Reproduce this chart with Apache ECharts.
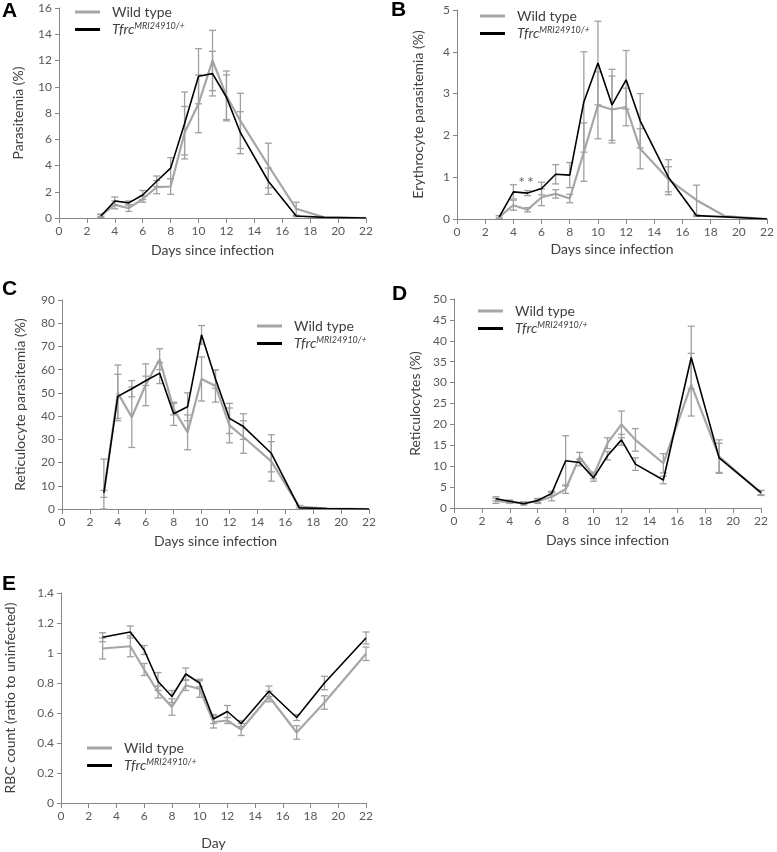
<!DOCTYPE html>
<html>
<head>
<meta charset="utf-8">
<script src="https://cdn.jsdelivr.net/npm/echarts@6/dist/echarts.min.js"></script>
<style>
html,body{margin:0;padding:0;background:#fff;}
#chart{width:777px;height:852px;}
</style>
</head>
<body>
<div id="chart"></div>
<script>
// ---------- DATA ----------
const days = [3,4,5,6,7,8,9,10,11,12,13,15,17,19,22];
const daysE = [3,5,6,7,8,9,10,11,12,13,15,17,19,22];
const xTicks = [0,2,4,6,8,10,12,14,16,18,20,22];

// A: Parasitemia (%)
const paraWT     = [0.2,1.0,0.75,1.45,2.35,2.4,6.5,8.7,12.0,9.3,7.4,4.0,0.7,0.05,0];
const paraWTerr  = [0.1,0.3,0.25,0.25,0.5,0.6,2.0,2.2,2.3,1.9,2.1,1.7,0.5,0,0];
const paraMut    = [0.15,1.3,1.15,1.75,2.8,3.8,7.2,10.8,11.0,9.2,6.5,2.8,0.15,0.05,0];
const paraMuterr = [0.1,0.3,0.15,0.35,0.4,0.8,2.4,2.1,1.7,1.7,1.6,1.0,0.05,0,0];

// B: Erythrocyte parasitemia (%)
const eryWT     = [0.05,0.33,0.22,0.52,0.6,0.49,1.6,2.72,2.62,2.68,1.68,0.95,0.45,0.07,0];
const eryWTerr  = [0.03,0.12,0.05,0.2,0.1,0.1,0.7,0.8,0.8,0.45,0.48,0.3,0.36,0,0];
const eryMut    = [0.05,0.65,0.62,0.73,1.07,1.05,2.8,3.73,2.73,3.33,2.35,1.0,0.08,0.05,0];
const eryMuterr = [0.03,0.17,0.06,0.15,0.23,0.3,1.2,1.0,0.85,0.7,0.65,0.42,0.02,0,0];
const eryStars  = [[4.9, 0.86]];

// C: Reticulocyte parasitemia (%)
const retWT     = [6.5,50,39.5,53.5,64.5,43,33,56,53,36,31,20.5,1,0.2,0];
const retWTerr  = [1.5,12,13,9,4.5,2.5,7.5,9.5,7,7.5,7,8.5,0.5,0,0];
const retMut    = [7,48.5,51.8,55.2,58.5,41,44,75,56,39,35.5,24,0.5,0.2,0];
const retMuterr = [14.5,9.5,3.5,2,4.5,5,6,4,4,6.5,5.5,8,0,0,0];

// D: Reticulocytes (%)
const recWT     = [1.7,1.4,1.2,1.6,2.7,4.5,12.2,7.8,15.5,20,16.3,10.7,29.5,12.3,3.6];
const recWTerr  = [0.6,0.3,0.3,0.5,1.0,1.0,1.1,0.8,1.3,3.2,2.7,2.3,7.5,4.0,0.6];
const recMut    = [2.2,1.6,1.0,1.8,3.5,11.3,10.9,7.2,12.5,16.3,10.5,6.7,36,12,3.7];
const recMuterr = [0.5,0.3,0.3,0.5,0.5,6.0,0.8,0.8,1.0,1.3,1.5,0.9,7.5,3.5,0.5];

// E: RBC count (ratio to uninfected)
const rbcWT     = [1.03,1.045,0.89,0.74,0.64,0.785,0.76,0.54,0.55,0.49,0.71,0.47,0.67,0.995];
const rbcWTerr  = [0.07,0.07,0.04,0.04,0.055,0.035,0.055,0.04,0.02,0.04,0.035,0.045,0.045,0.045];
const rbcMut    = [1.105,1.14,1.02,0.81,0.71,0.86,0.8,0.56,0.61,0.53,0.745,0.57,0.8,1.1];
const rbcMuterr = [0.03,0.04,0.03,0.06,0.04,0.04,0.025,0.03,0.04,0.02,0.035,0.02,0.045,0.04];

const WT = 'Wild type';
const MUT = 'TfrcMRI24910/+';

// ---------- STYLE ----------
const FONT = 'Lato';
const GRAY = '#a6a6a6';
const ERR = '#a0a0a0';
const AX = '#868686';
const LBL = '#595959';

const panels = [
  {grid:{left:59,right:411,top:8,bottom:634}, y:{min:0,max:16,interval:2}, name:'Parasitemia (%)', yGap:34, xName:'Days since infection', xGap:25,
   x:days, wt:paraWT, wte:paraWTerr, mu:paraMut, mue:paraMuterr, legend:{left:75, top:5}},
  {grid:{left:457,right:7,top:10,bottom:633}, y:{min:0,max:5,interval:1}, name:'Erythrocyte parasitemia (%)', yGap:32, xName:'Days since infection', xGap:23,
   x:days, wt:eryWT, wte:eryWTerr, mu:eryMut, mue:eryMuterr, legend:{left:480, top:9}},
  {grid:{left:62,right:408,top:300,bottom:343}, y:{min:0,max:90,interval:10}, name:'Reticulocyte parasitemia (%)', yGap:35, xName:'Days since infection', xGap:25,
   x:days, wt:retWT, wte:retWTerr, mu:retMut, mue:retMuterr, legend:{left:257, top:319}},
  {grid:{left:454,right:16,top:299,bottom:344}, y:{min:0,max:50,interval:5}, name:'Reticulocytes (%)', yGap:32, xName:'Days since infection', xGap:25,
   x:days, wt:recWT, wte:recWTerr, mu:recMut, mue:recMuterr, legend:{left:478, top:304}},
  {grid:{left:61,right:411,top:593,bottom:49}, y:{min:0,max:1.4,interval:0.2}, name:'RBC count (ratio to uninfected)', yGap:44, xName:'Day', xGap:33,
   x:daysE, wt:rbcWT, wte:rbcWTerr, mu:rbcMut, mue:rbcMuterr, legend:{left:87, top:741}}
];

const grids=[], xAxes=[], yAxes=[], series=[], legends=[];

function errRender(params, api){
  const x = api.value(0), v = api.value(1), e = api.value(2);
  if (!e) return null;
  const lo = Math.max(0, v - e), hi = v + e;
  const p1 = api.coord([x, hi]), p2 = api.coord([x, lo]);
  const w = 3.5;
  const st = {stroke: ERR, lineWidth: 1.3};
  return {type:'group', children:[
    {type:'line', shape:{x1:p1[0],y1:p1[1],x2:p2[0],y2:p2[1]}, style:st},
    {type:'line', shape:{x1:p1[0]-w,y1:p1[1],x2:p1[0]+w,y2:p1[1]}, style:st},
    {type:'line', shape:{x1:p2[0]-w,y1:p2[1],x2:p2[0]+w,y2:p2[1]}, style:st}
  ]};
}

panels.forEach((p,i)=>{
  grids.push(Object.assign({containLabel:false}, p.grid));
  xAxes.push({
    type:'value', gridIndex:i, min:0, max:22, interval:2,
    name:p.xName, nameLocation:'middle', nameGap:p.xGap,
    nameTextStyle:{fontFamily:FONT, fontSize:14, color:'#404040'},
    axisLine:{show:true, onZero:false, lineStyle:{color:AX, width:1}},
    axisTick:{show:true, inside:false, length:5, lineStyle:{color:AX}},
    axisLabel:{fontFamily:FONT, fontSize:12, color:LBL, margin:7},
    splitLine:{show:false}
  });
  yAxes.push({
    type:'value', gridIndex:i, min:p.y.min, max:p.y.max, interval:p.y.interval,
    name:p.name, nameLocation:'middle', nameGap:p.yGap, nameRotate:90,
    nameTextStyle:{fontFamily:FONT, fontSize:14, color:'#404040'},
    axisLine:{show:true, lineStyle:{color:AX, width:1}},
    axisTick:{show:true, inside:false, length:4, lineStyle:{color:AX}},
    axisLabel:{fontFamily:FONT, fontSize:12, color:LBL, margin:7},
    splitLine:{show:false}
  });
  series.push({
    type:'custom', name:'errWT'+i, xAxisIndex:i, yAxisIndex:i, renderItem:errRender, z:3,
    data:p.x.map((d,k)=>[d, p.wt[k], p.wte[k]]), silent:true
  });
  series.push({
    type:'custom', name:'errMut'+i, xAxisIndex:i, yAxisIndex:i, renderItem:errRender, z:3,
    data:p.x.map((d,k)=>[d, p.mu[k], p.mue[k]]), silent:true
  });
  series.push({
    type:'line', name:WT, xAxisIndex:i, yAxisIndex:i, symbol:'none', z:2,
    data:p.x.map((d,k)=>[d, p.wt[k]]),
    lineStyle:{color:GRAY, width:2.2}, itemStyle:{color:GRAY}
  });
  series.push({
    type:'line', name:MUT, xAxisIndex:i, yAxisIndex:i, symbol:'none', z:4,
    data:p.x.map((d,k)=>[d, p.mu[k]]),
    lineStyle:{color:'#000', width:1.6}, itemStyle:{color:'#000'}
  });
  legends.push({
    data:[WT, MUT], orient:'vertical', left:p.legend.left, top:p.legend.top,
    icon:'rect', itemWidth:25, itemHeight:3, itemGap:2, padding:0,
    selectedMode:false,
    formatter:(n)=> n===WT ? '{n|Wild type}' : '{i|Tfrc}{s|MRI24910/+}',
    textStyle:{fontFamily:FONT, fontSize:14, color:'#404040',
      rich:{
        n:{fontFamily:FONT, fontSize:14, color:'#404040', padding:[0,0,0,7], lineHeight:17},
        i:{fontFamily:FONT, fontSize:14, fontStyle:'italic', color:'#404040', padding:[0,0,0,7], verticalAlign:'middle', lineHeight:17, height:17},
        s:{fontFamily:FONT, fontSize:9, fontStyle:'italic', color:'#404040', verticalAlign:'top', lineHeight:11, height:11}
      }}
  });
});

// asterisks in panel B
series.push({
  type:'scatter', name:'stars', xAxisIndex:1, yAxisIndex:1, symbolSize:0, silent:true,
  data:eryStars,
  label:{show:true, position:'inside', formatter:'{a|*}{b|*}', fontFamily:FONT, fontSize:16, color:'#404040',
    rich:{a:{fontFamily:FONT, fontSize:16, color:'#404040', padding:[0,2,0,0]}, b:{fontFamily:FONT, fontSize:16, color:'#404040'}}}
});

const letterStyle = {fontFamily:'Liberation Sans', fontSize:21, fontWeight:'bold', fill:'#000'};
const letters = [['A',2,1],['B',391,0],['C',2,279],['D',392,284],['E',2,574]];

const option = {
  animation:false,
  backgroundColor:'#fff',
  grid:grids, xAxis:xAxes, yAxis:yAxes, legend:legends, series:series,
  graphic: letters.map(l=>({type:'text', left:l[1], top:l[2], style:Object.assign({text:l[0]}, letterStyle)}))
};

const chart = echarts.init(document.getElementById('chart'), null, {renderer:'canvas'});
chart.setOption(option);
</script>
</body>
</html>
